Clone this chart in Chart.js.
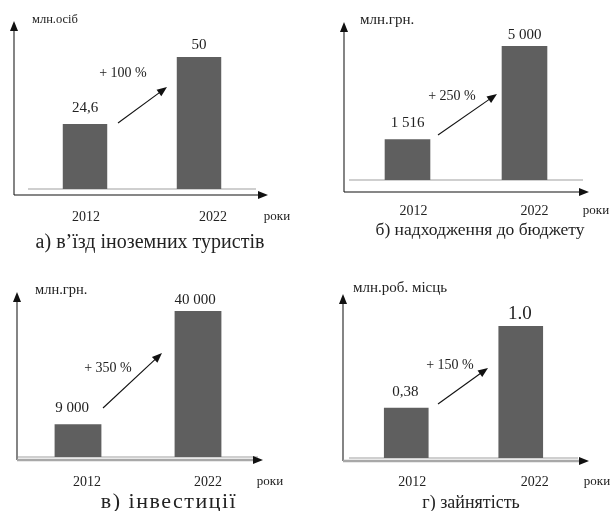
<!DOCTYPE html>
<html>
<head>
<meta charset="utf-8">
<script src="https://cdn.jsdelivr.net/npm/chart.js@4.4.0/dist/chart.umd.min.js"></script>
<style>
    body { margin: 0; background: #fff; }
    #wrap { position: relative; width: 611px; height: 511px; }
    canvas { position: absolute; }
</style>
</head>
<body>
<div id="wrap">
    <canvas id="chartA" width="305" height="255" style="left:0;top:0"></canvas>
    <canvas id="chartB" width="306" height="255" style="left:305px;top:0"></canvas>
    <canvas id="chartC" width="305" height="256" style="left:0;top:255px"></canvas>
    <canvas id="chartD" width="306" height="256" style="left:305px;top:255px"></canvas>
</div>
<script>
// ---- data ----
var years = ['2012', '2022'];

var tourists = [24.6, 50];
var touristsText = ['24,6', '50'];

var budget = [1516, 5000];
var budgetText = ['1 516', '5 000'];

var invest = [9000, 40000];
var investText = ['9 000', '40 000'];

var jobs = [0.38, 1.0];
var jobsText = ['0,38', '1.0'];

var units = ['млн.осіб', 'млн.грн.', 'млн.грн.', 'млн.роб. місць'];
var growth = ['+ 100 %', '+ 250 %', '+ 350 %', '+ 150 %'];
var captions = ['а) в’їзд іноземних туристів', 'б) надходження до бюджету', 'в) інвестиції', 'г) зайнятість'];
var axisName = 'роки';

var SERIF = '"Liberation Serif", "DejaVu Serif", serif';

// ---- drawing helpers ----
function arrowHead(ctx, x1, y1, x2, y2, len, wid) {
    var ang = Math.atan2(y2 - y1, x2 - x1);
    ctx.beginPath();
    ctx.moveTo(x2, y2);
    ctx.lineTo(x2 - len * Math.cos(ang) + wid * Math.sin(ang), y2 - len * Math.sin(ang) - wid * Math.cos(ang));
    ctx.lineTo(x2 - len * Math.cos(ang) - wid * Math.sin(ang), y2 - len * Math.sin(ang) + wid * Math.cos(ang));
    ctx.closePath();
    ctx.fill();
}

function arrow(ctx, x1, y1, x2, y2, len, wid) {
    var ang = Math.atan2(y2 - y1, x2 - x1);
    ctx.beginPath();
    ctx.moveTo(x1, y1);
    ctx.lineTo(x2 - (len - 1) * Math.cos(ang), y2 - (len - 1) * Math.sin(ang));
    ctx.stroke();
    arrowHead(ctx, x1, y1, x2, y2, len, wid);
}

var decor = {
    id: 'decor',
    beforeDatasetsDraw: function(chart, args, o) {
        var a = chart.chartArea, ctx = chart.ctx;
        ctx.save();
        ctx.strokeStyle = '#cfcfcf';
        ctx.lineWidth = 2;
        ctx.beginPath();
        ctx.moveTo(a.left, a.bottom);
        ctx.lineTo(a.right, a.bottom);
        ctx.stroke();
        ctx.restore();
    },
    afterDraw: function(chart, args, o) {
        var ctx = chart.ctx, a = chart.chartArea;
        var xs = chart.scales.x;
        var bars = chart.getDatasetMeta(0).data;
        ctx.save();

        // axes
        ctx.fillStyle = '#111';
        ctx.strokeStyle = '#333';
        ctx.lineWidth = 1.2;
        arrow(ctx, o.axisX, o.axisY, o.axisX, o.axisTop, 10, 4);
        ctx.strokeStyle = o.xAxisColor;
        ctx.lineWidth = o.xAxisWidth;
        ctx.beginPath();
        ctx.moveTo(o.axisX, o.axisY);
        ctx.lineTo(o.axisRight - 8, o.axisY);
        ctx.stroke();
        ctx.fillStyle = '#111';
        arrowHead(ctx, o.axisX, o.axisY, o.axisRight, o.axisY, 10, 4);

        // unit label
        ctx.fillStyle = '#222';
        ctx.font = o.unitSize + 'px ' + SERIF;
        ctx.textAlign = 'left';
        ctx.textBaseline = 'middle';
        ctx.fillText(o.unit, o.unitX, o.unitY);

        // value labels above bars
        ctx.textAlign = 'center';
        ctx.textBaseline = 'middle';
        for (var i = 0; i < bars.length; i++) {
            ctx.font = o.valueSizes[i] + 'px ' + SERIF;
            ctx.fillText(o.values[i], bars[i].x + o.valueShift[i], bars[i].y - o.valueGap[i]);
        }

        // x tick labels
        ctx.font = '14px ' + SERIF;
        for (var j = 0; j < years.length; j++) {
            ctx.fillText(years[j], xs.getPixelForValue(j) + o.tickShift[j], o.tickY);
        }
        ctx.font = '13px ' + SERIF;
        ctx.fillText(axisName, o.rokyX, o.tickY);

        // growth annotation
        ctx.font = '14px ' + SERIF;
        ctx.fillText(o.growth, o.growthX, o.growthY);
        ctx.strokeStyle = '#111';
        ctx.fillStyle = '#111';
        ctx.lineWidth = 1.1;
        arrow(ctx, o.arr[0], o.arr[1], o.arr[2], o.arr[3], 10, 4);

        // caption
        ctx.fillStyle = '#222';
        ctx.font = o.capSize + 'px ' + SERIF;
        ctx.letterSpacing = o.capSpacing + 'px';
        ctx.fillText(o.caption, o.capX, o.capY);
        ctx.letterSpacing = '0px';
        ctx.restore();
    }
};

function makeChart(id, values, p) {
    var cv = document.getElementById(id);
    return new Chart(cv, {
        type: 'bar',
        data: {
            labels: years,
            datasets: [{
                data: values,
                backgroundColor: '#5f5f5f',
                borderWidth: 0,
                categoryPercentage: 1,
                barPercentage: 0.39
            }]
        },
        options: {
            responsive: false,
            devicePixelRatio: 1,
            animation: false,
            layout: {
                padding: { left: p.left, right: cv.width - p.right, top: p.top, bottom: cv.height - p.bottom }
            },
            scales: {
                x: { display: false },
                y: { display: false, min: 0, max: Math.max.apply(null, values) }
            },
            plugins: {
                legend: { display: false },
                tooltip: { enabled: false },
                decor: p.decor
            }
        },
        plugins: [decor]
    });
}

makeChart('chartA', tourists, {
    left: 28, right: 256, top: 57, bottom: 189,
    decor: {
        axisX: 14, axisY: 195, axisTop: 21, axisRight: 268,
        xAxisColor: '#111', xAxisWidth: 1.2,
        unit: units[0], unitSize: 12.5, unitX: 32, unitY: 20,
        values: touristsText, valueSizes: [15, 15], valueShift: [0, 0], valueGap: [16, 12],
        tickShift: [1, 14], tickY: 217, rokyX: 277,
        growth: growth[0], growthX: 123, growthY: 73, arr: [118, 123, 167, 87],
        caption: captions[0], capSize: 20, capSpacing: 0, capX: 150, capY: 243
    }
});

makeChart('chartB', budget, {
    left: 44, right: 278, top: 46, bottom: 180,
    decor: {
        axisX: 39, axisY: 192, axisTop: 22, axisRight: 284,
        xAxisColor: '#111', xAxisWidth: 1.2,
        unit: units[1], unitSize: 15, unitX: 55, unitY: 20,
        values: budgetText, valueSizes: [15, 15], valueShift: [0, 0], valueGap: [16, 11],
        tickShift: [6, 10], tickY: 211, rokyX: 291,
        growth: growth[1], growthX: 147, growthY: 96, arr: [133, 135, 192, 94],
        caption: captions[1], capSize: 17.5, capSpacing: 0, capX: 175, capY: 230
    }
});

makeChart('chartC', invest, {
    left: 18, right: 258, top: 56, bottom: 202,
    decor: {
        axisX: 17, axisY: 205, axisTop: 37, axisRight: 263,
        xAxisColor: '#a8a8a8', xAxisWidth: 2.5,
        unit: units[2], unitSize: 14.5, unitX: 35, unitY: 35,
        values: investText, valueSizes: [15, 15], valueShift: [-6, -3], valueGap: [16, 11],
        tickShift: [9, 10], tickY: 227, rokyX: 270,
        growth: growth[2], growthX: 108, growthY: 113, arr: [103, 153, 162, 98],
        caption: captions[2], capSize: 22, capSpacing: 1.5, capX: 169, capY: 247
    }
});

makeChart('chartD', jobs, {
    left: 44, right: 273, top: 71, bottom: 203,
    decor: {
        axisX: 38, axisY: 206, axisTop: 39, axisRight: 284,
        xAxisColor: '#a8a8a8', xAxisWidth: 2.5,
        unit: units[3], unitSize: 15, unitX: 48, unitY: 33,
        values: jobsText, valueSizes: [15, 19], valueShift: [-1, -1], valueGap: [16, 12],
        tickShift: [6, 14], tickY: 227, rokyX: 292,
        growth: growth[3], growthX: 145, growthY: 110, arr: [133, 149, 183, 113],
        caption: captions[3], capSize: 18, capSpacing: 0, capX: 166, capY: 248
    }
});
</script>
</body>
</html>
